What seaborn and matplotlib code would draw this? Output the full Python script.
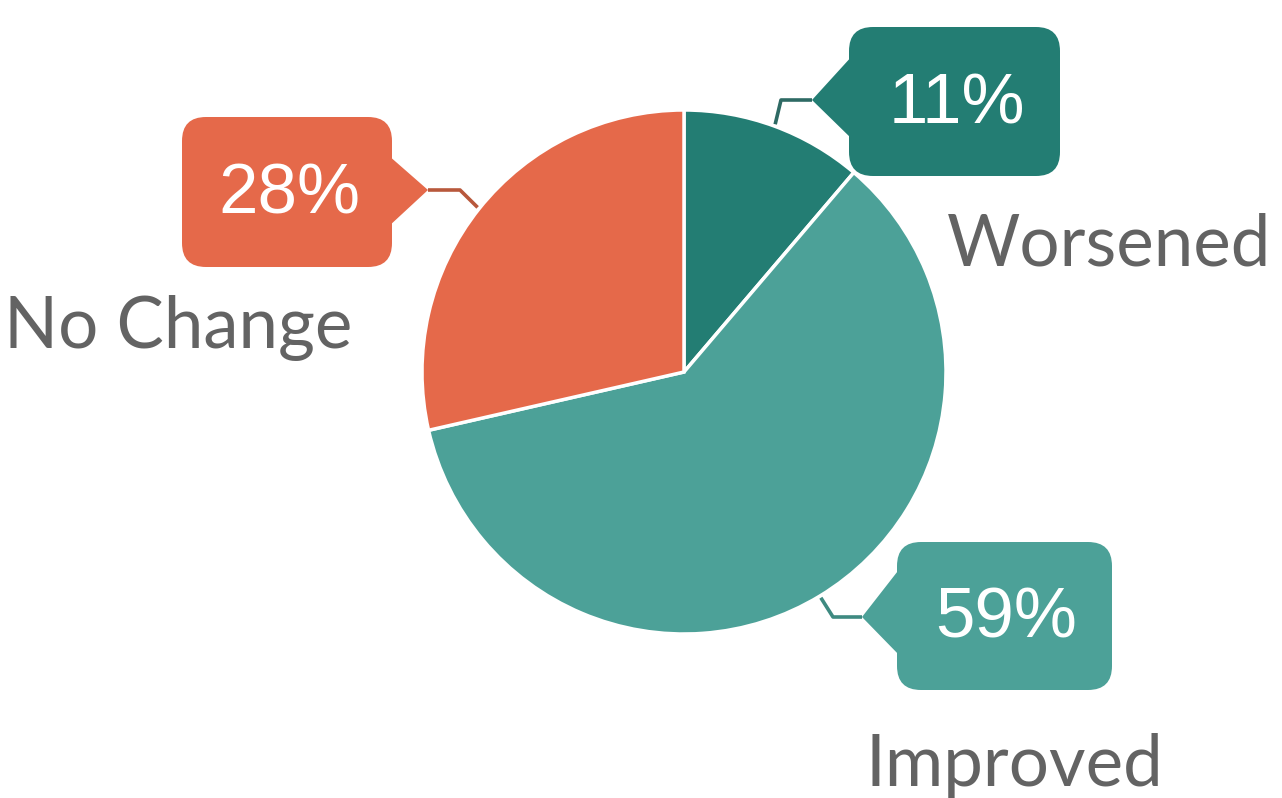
import numpy as np
import matplotlib
matplotlib.use("Agg")
import matplotlib.pyplot as plt
from matplotlib.patches import FancyBboxPatch, Polygon
import seaborn as sns

# ---- data ----
categories = ["Worsened", "Improved", "No Change"]
values = [11, 59, 28]
pct_labels = ["11%", "59%", "28%"]
colors = ["#237D73", "#4CA198", "#E5694A"]
line_colors = ["#2E6A64", "#3E8A81", "#B8583C"]

sns.set_theme(style="white")
plt.rcParams["font.family"] = ["Lato", "DejaVu Sans"]

W, H = 1282, 798
fig = plt.figure(figsize=(W / 100, H / 100), dpi=100)
ax = fig.add_axes([0, 0, 1, 1])

cx, cy, R = 684, 372, 262
wedges, _ = ax.pie(values, colors=colors, startangle=-90, counterclock=True,
                   center=(cx, cy), radius=R,
                   wedgeprops=dict(edgecolor="white", linewidth=2.5))
ax.set_xlim(0, W)
ax.set_ylim(H, 0)
ax.set_aspect("equal")
ax.axis("off")

# callout layout (pixel positions): box (left, top, right, bottom), pointer tip, elbow
boxes = {
    "Worsened": dict(box=(849, 27, 1060, 176), tip=(812, 100), elbow=(781, 100),
                     notch=(55, 140), side="left", label=(947, 265)),
    "Improved": dict(box=(897, 542, 1112, 690), tip=(862, 617), elbow=(833, 617),
                     notch=(567, 657), side="left", label=(865, 786)),
    "No Change": dict(box=(182, 117, 392, 267), tip=(428, 190), elbow=(460, 190),
                      notch=(155, 227), side="right", label=(4, 348)),
}

for wdg, cat, pct, col, lcol in zip(wedges, categories, pct_labels, colors, line_colors):
    b = boxes[cat]
    x0, y0, x1, y1 = b["box"]
    ax.add_patch(FancyBboxPatch((x0, y0), x1 - x0, y1 - y0,
                                boxstyle="round,pad=0,rounding_size=24",
                                facecolor=col, edgecolor="none", zorder=3))
    bx = x0 + 4 if b["side"] == "left" else x1 - 4
    ax.add_patch(Polygon([(bx, b["notch"][0]), b["tip"], (bx, b["notch"][1])],
                         closed=True, facecolor=col, edgecolor="none", zorder=3))
    theta = np.deg2rad((wdg.theta1 + wdg.theta2) / 2)
    sx = cx + (R + 2) * np.cos(theta)
    sy = cy + (R + 2) * np.sin(theta)
    ax.plot([sx, b["elbow"][0], b["tip"][0]], [sy, b["elbow"][1], b["tip"][1]],
            color=lcol, lw=2.6, solid_capstyle="butt", zorder=2)
    ax.text((x0 + x1) / 2 + 2, (y0 + y1) / 2 + 4, pct, color="white",
            fontsize=51, ha="center", va="center",
            family=["Liberation Sans", "DejaVu Sans"], zorder=4)
    ax.text(b["label"][0], b["label"][1], cat, color="#636363", fontsize=51,
            ha="left", va="baseline", zorder=4)

fig.savefig("out.png", dpi=100, facecolor="white")
